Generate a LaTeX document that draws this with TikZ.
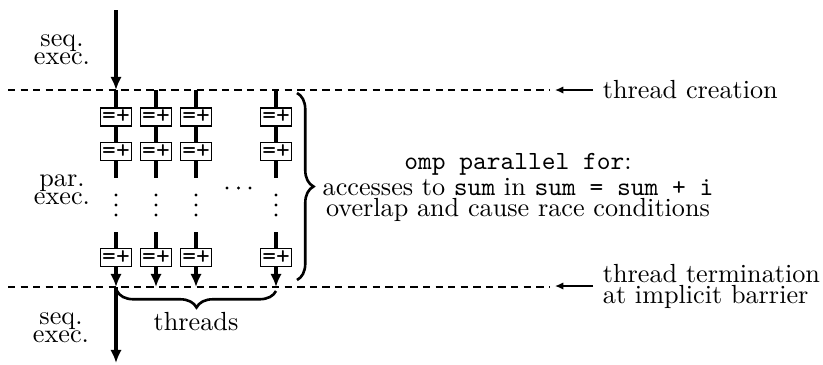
\documentclass[tikz,border=0pt]{standalone}
\usetikzlibrary{arrows.meta,decorations.pathreplacing}
\begin{document}
\begin{tikzpicture}[
  x=0.3817pt, y=-0.3817pt,
  thread/.style={line width=1.25pt},
  threadarrow/.style={line width=1.25pt, -{Latex[length=5pt,width=4.4pt]}},
  opbox/.style={draw, line width=0.5pt, fill=white, font=\ttfamily,
    inner sep=0.3pt, minimum width=11.8pt, minimum height=6.9pt},
  boundary/.style={line width=0.4pt, dash pattern=on 2.8pt off 2pt},
  pointer/.style={line width=0.5pt, -{Latex[length=3.2pt,width=2.8pt]}},
  bracestyle/.style={line width=1pt, decorate,
    decoration={brace, amplitude=6.3pt}},
  phase/.style={font=\fontsize{10}{7}\selectfont, align=center, inner sep=0pt},
  note/.style={font=\fontsize{10}{8}\selectfont, inner sep=0pt}
]
\useasboundingbox (0,0) rectangle (823,364);

% fork and join boundaries
\coordinate (forkL) at (8,90);
\coordinate (forkR) at (550,90);
\coordinate (joinL) at (8,287);
\coordinate (joinR) at (550,287);
\draw[boundary] (forkL) -- (forkR);
\draw[boundary] (joinL) -- (joinR);

% worker threads
\foreach \c/\x in {1/116,2/156,3/196,4/276}{
  \node[opbox] (b\c-1) at (\x,117) {=+};
  \node[opbox] (b\c-2) at (\x,151.5) {=+};
  \node[opbox] (b\c-3) at (\x,257.5) {=+};
  \coordinate (top\c) at (\x,90);
  \coordinate (gapa\c) at (\x,178);
  \coordinate (gapb\c) at (\x,232);
  \coordinate (end\c) at (\x,287);
  \draw[thread] (top\c) -- (b\c-1) -- (b\c-2) -- (gapa\c);
  \draw[thread] (gapb\c) -- (b\c-3);
  \draw[threadarrow] (b\c-3) -- (end\c);
  \foreach \y in {195,205,215} \fill (\x,\y) circle (0.6pt);
}
% further threads left out
\foreach \x in {227,238.5,250} \fill (\x,188) circle (0.6pt);

% master thread before and after the parallel region
\coordinate (start) at (116,10);
\coordinate (finish) at (116,363);
\draw[threadarrow] (start) -- (top1);
\draw[threadarrow] (end1) -- (finish);

% phase labels
\node[phase] (seqA) at (62,50) {seq.\\exec.};
\node[phase] (par) at (62,190) {par.\\exec.};
\node[phase] (seqB) at (61,328) {seq.\\exec.};

% braces
\coordinate (thrL) at (117,291);
\coordinate (thrR) at (276,291);
\draw[bracestyle, decoration={mirror}] (thrL) -- (thrR);
\node[note] (threads) at (196,322) {threads};

\coordinate (regT) at (297,93);
\coordinate (regB) at (297,280);
\draw[bracestyle] (regT) -- (regB);
\node[note, align=center] (race) at (518,187.5)
  {\texttt{omp parallel for}:\\
   accesses to \texttt{sum} in \texttt{sum = sum + i}\\
   overlap and cause race conditions};

% annotations of the boundaries
\node[note, anchor=west, inner xsep=3.6pt] (create) at (593,90) {thread creation};
\coordinate (createtip) at (555,90);
\draw[pointer] (create.west) -- (createtip);
\node[note, anchor=west, inner xsep=3.6pt, align=left] (term) at (593,286)
  {thread termination\\at implicit barrier};
\coordinate (termtip) at (555,286);
\draw[pointer] (term.west) -- (termtip);
\end{tikzpicture}
\end{document}
